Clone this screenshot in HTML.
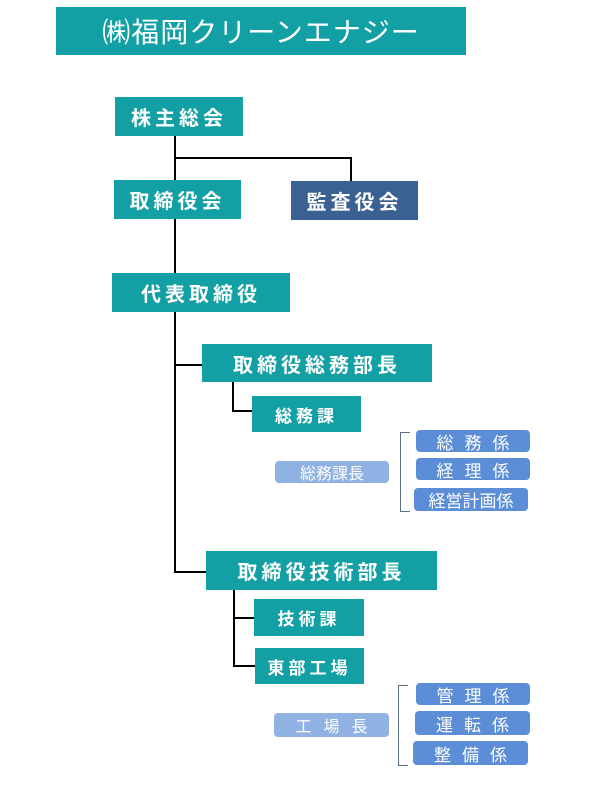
<!DOCTYPE html>
<html><head><meta charset="utf-8"><style>
body{margin:0;width:616px;height:786px;background:#fff;position:relative;overflow:hidden;font-family:"Liberation Sans","Noto Sans CJK JP",sans-serif}
.b{position:absolute;display:flex;align-items:center;justify-content:center;color:#fff;box-sizing:border-box;white-space:nowrap}
.t{background:#13a0a4;font-size:20px;letter-spacing:4px;font-weight:bold}
.s{background:#5b8ed6;border-radius:4px;font-size:17px;letter-spacing:11px;padding-left:11px}
.l{background:#8fb2e2;border-radius:4px;font-size:16px}
.h{position:absolute;background:#000;height:1.5px}
.v{position:absolute;background:#000;width:1.5px}
.br{position:absolute;border:1px solid #5a7088;border-right:none;width:9px}
</style></head><body>
<div class="b t" style="left:56px;top:7px;width:410px;height:48px;font-size:28px;letter-spacing:1px;font-weight:normal">㈱福岡クリーンエナジー</div>

<div class="v" style="left:174px;top:136px;height:137px"></div>
<div class="h" style="left:174px;top:157px;width:177px"></div>
<div class="v" style="left:350px;top:157px;height:24px"></div>
<div class="v" style="left:174px;top:312px;height:261px"></div>
<div class="h" style="left:174px;top:364px;width:28px"></div>
<div class="h" style="left:174px;top:571px;width:32px"></div>
<div class="v" style="left:232px;top:382px;height:29px"></div>
<div class="h" style="left:232px;top:410px;width:20px"></div>
<div class="v" style="left:233px;top:590px;height:76px"></div>
<div class="h" style="left:233px;top:617px;width:22px"></div>
<div class="h" style="left:233px;top:665px;width:22px"></div>

<div class="b t" style="left:115px;top:97px;width:128px;height:39px">株主総会</div>
<div class="b t" style="left:114px;top:180px;width:127px;height:39px">取締役会</div>
<div class="b t" style="left:291px;top:181px;width:127px;height:39px;background:#3a6191">監査役会</div>
<div class="b t" style="left:112px;top:273px;width:178px;height:39px">代表取締役</div>
<div class="b t" style="left:202px;top:344px;width:230px;height:38px">取締役総務部長</div>
<div class="b t" style="left:252px;top:396px;width:109px;height:36px;font-size:17px">総務課</div>
<div class="b l" style="left:275px;top:461px;width:114px;height:22px">総務課長</div>
<div class="br" style="left:400px;top:432px;height:78px"></div>
<div class="b s" style="left:416px;top:430px;width:114px;height:22px">総務係</div>
<div class="b s" style="left:416px;top:458px;width:114px;height:22px">経理係</div>
<div class="b s" style="left:414px;top:488px;width:114px;height:23px;letter-spacing:0;padding-left:0">経営計画係</div>

<div class="b t" style="left:206px;top:551px;width:231px;height:39px">取締役技術部長</div>
<div class="b t" style="left:254px;top:599px;width:110px;height:37px;font-size:17px">技術課</div>
<div class="b t" style="left:255px;top:648px;width:109px;height:36px;font-size:17px">東部工場</div>
<div class="b l" style="left:274px;top:713px;width:115px;height:24px;letter-spacing:12px;padding-left:12px">工場長</div>
<div class="br" style="left:398px;top:685px;height:79px"></div>
<div class="b s" style="left:416px;top:683px;width:114px;height:22px">管理係</div>
<div class="b s" style="left:415px;top:711px;width:115px;height:24px">運転係</div>
<div class="b s" style="left:413px;top:741px;width:115px;height:24px">整備係</div>
</body></html>
